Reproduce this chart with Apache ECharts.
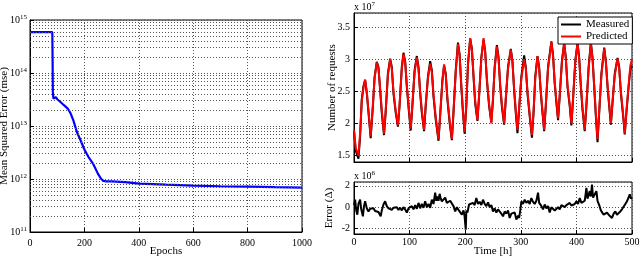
<!DOCTYPE html>
<html><head><meta charset="utf-8">
<script src="https://cdn.jsdelivr.net/npm/echarts@6/dist/echarts.min.js"></script>
<style>html,body{margin:0;padding:0;background:#fff}#c{width:640px;height:257px}</style>
</head><body><div id="c"></div>
<script>
// ---- Left panel: training error (mse) vs epochs ----
const epochs = [0, 82, 83, 84, 86, 90, 95, 98, 100, 110, 120, 130, 140, 150, 160, 172, 185, 200, 215, 233, 250, 262, 270, 280, 300, 350, 400, 450, 500, 600, 700, 800, 900, 1000];
const mse = [5.9e14, 5.9e14, 2e14, 4.5e13, 3.3e13, 3.3e13, 3.5e13, 3.7e13, 3.2e13, 2.9e13, 2.6e13, 2.35e13, 2.1e13, 1.7e13, 1.25e13, 7.8e12, 5.5e12, 3.6e12, 2.6e12, 1.9e12, 1.25e12, 1.0e12, 9.2e11, 9.0e11, 9.0e11, 8.7e11, 8.2e11, 8.0e11, 7.8e11, 7.5e11, 7.3e11, 7.2e11, 7.0e11, 6.9e11];

// ---- Right top: number of requests (x 10^7) ----
const hours = [0,3,8,11,14,17,20,23,26, 30,34,37,41,44,47,50, 54,57,61,65,68,71,75, 79,82,86,89,92,95,99, 102,105,109,113,116,119,122, 126,129,133,137,140,143,147, 152,155,159,162,165,168,172, 176,179,183,187,190,193,196, 199,202,205,209,212,215,218, 222,225,229,233,236,239,243, 247,250,253,257,260,263,266, 270,273,277,282,285,288,291, 294,297,301,306,309,312,316, 320,323,326,330,333,336,339, 342,345,349,355,358,361,364, 367,370,374,378,381,384,388, 391,394,398,402,405,408,411, 415,418,422,426,429,432,435, 438,441,445,450,453,456,459, 462,465,469,474,477,480,484, 487,490,494,497,500];
const predicted = [1.90,1.62,1.50,1.85,2.35,2.55,2.68,2.50,2.20, 1.80,2.30,2.70,2.95,2.85,2.55,2.20, 1.84,2.20,2.75,3.00,2.85,2.50,2.20, 1.97,2.30,2.85,3.08,2.95,2.60,2.20, 1.92,2.30,2.80,3.03,2.85,2.50,2.20, 1.90,2.30,2.70,2.93,2.80,2.45,2.10, 1.75,2.15,2.65,2.92,2.75,2.40,2.05, 1.76,2.20,2.80,3.24,3.05,2.60,2.20, 1.87,2.30,2.90,3.33,3.15,2.75,2.35, 2.05,2.45,3.00,3.33,3.10,2.70,2.30, 2.00,2.40,2.85,3.20,3.00,2.60,2.30, 2.00,2.40,2.85,3.15,2.95,2.55,2.20, 1.90,2.25,2.70,3.00,2.85,2.50,2.15, 1.82,2.20,2.70,3.05,2.85,2.50,2.20, 1.90,2.30,2.85,3.27,3.05,2.65,2.35, 2.08,2.45,2.95,3.26,3.00,2.60,2.30, 2.00,2.40,2.95,3.26,3.00,2.60,2.25, 1.90,2.30,2.85,3.25,3.00,2.60,2.15, 1.76,2.20,2.75,3.17,2.95,2.60,2.30, 2.00,2.35,2.75,3.01,2.85,2.50,2.15, 1.84,2.20,2.60,2.90,3.00];
const measured = [1.88,1.58,1.45,1.80,2.38,2.58,2.68,2.47,2.18, 1.77,2.27,2.72,2.96,2.88,2.52,2.16, 1.82,2.18,2.78,3.01,2.88,2.47,2.17, 1.95,2.28,2.88,3.10,2.97,2.57,2.16, 1.89,2.27,2.83,3.05,2.88,2.47,2.17, 1.88,2.27,2.73,2.97,2.83,2.42,2.06, 1.73,2.12,2.68,2.90,2.78,2.37,2.01, 1.74,2.17,2.83,3.26,3.07,2.57,2.16, 1.84,2.27,2.93,3.32,3.17,2.72,2.31, 2.04,2.42,3.03,3.30,3.12,2.67,2.27, 2.02,2.37,2.88,3.22,3.03,2.57,2.26, 1.98,2.37,2.88,3.16,2.97,2.52,2.16, 1.85,2.22,2.73,3.06,2.88,2.47,2.11, 1.78,2.17,2.73,3.05,2.88,2.47,2.17, 1.88,2.27,2.88,3.28,3.07,2.62,2.32, 2.05,2.42,2.98,3.25,3.03,2.57,2.27, 1.97,2.37,2.98,3.25,3.03,2.57,2.21, 1.88,2.27,2.88,3.26,3.03,2.57,2.11, 1.71,2.16,2.78,3.18,2.97,2.57,2.27, 1.98,2.32,2.78,3.02,2.88,2.47,2.12, 1.83,2.17,2.58,2.84,2.90];

// ---- Right bottom: prediction error (x 10^6) ----
const errHours = [0,2,4,6,8,11,13,16,18,20,23,26,29,32,35,38,41,44,46,48,50,53,56,59,62,65,68,71,74,77,80,83,86,89,92,95,98,101,104,107,110,113,116,119,122,125,128,131,134,137,140,143,146,148,150,152,154,156,158,161,164,167,170,173,176,179,182,185,188,191,194,197,199,201,202,204,207,210,214,217,220,223,226,229,232,235,238,241,244,247,250,253,256,259,262,265,268,271,274,277,280,283,286,289,292,295,297,299,301,304,307,310,313,316,319,322,325,328,331,333,336,340,343,346,349,352,355,358,361,364,367,370,373,376,379,382,385,388,391,394,397,400,403,406,409,412,415,418,420,422,424,426,428,430,432,434,436,438,441,444,446,449,452,455,458,461,464,467,470,473,476,479,482,485,488,491,494,496,498,500];
const errValues = [0.2,0.7,-0.3,-0.7,0.3,0.7,-0.2,-0.85,0.1,0.55,-0.1,-0.4,-0.15,-0.3,-0.1,-0.35,-0.2,-0.45,-0.3,-0.85,-0.3,0.25,0.55,0.1,-0.1,0.0,-0.25,-0.05,-0.2,0.0,-0.25,-0.05,-0.3,0.0,-0.2,-0.5,-0.1,-0.2,0.1,-0.2,0.2,-0.15,0.4,-0.1,0.3,-0.05,0.55,0.0,0.3,-0.05,0.7,0.3,1.35,0.6,1.0,0.6,1.25,0.8,0.55,0.7,0.9,0.4,0.25,0.6,0.35,0.1,-0.4,0.0,-0.25,-0.4,-0.7,-0.3,-0.9,-2.1,-0.3,-0.5,0.25,0.1,0.4,0.2,0.85,0.3,0.5,0.2,0.7,0.3,0.1,0.45,0.0,0.2,-0.4,-0.1,-0.5,-0.2,-0.35,-0.6,-0.85,-0.4,-0.6,-0.3,-1.0,-0.6,-0.75,-0.5,-1.15,-0.8,-1.0,-0.3,0.55,0.3,0.7,0.4,0.6,0.3,0.85,0.5,0.3,0.6,1.35,0.4,0.2,-0.2,0.25,-0.1,0.1,-0.5,0.0,0.1,-0.3,-0.4,0.0,-0.2,0.2,0.25,0.0,0.2,0.1,0.4,0.15,0.25,0.3,0.55,0.3,0.85,0.4,0.4,0.6,1.8,0.8,0.9,1.5,1.0,2.1,0.9,0.8,1.3,1.5,0.6,0.2,-0.3,-0.4,-0.7,-0.85,-0.5,-0.7,-0.6,-1.0,-0.6,-0.4,-0.7,-0.7,-0.4,-0.2,-0.1,0.3,0.55,0.6,1.2,0.8,0.9];

const seriesNames = ['Measured', 'Predicted'];
const decades = [11, 12, 13, 14];

const FONT = 'Liberation Serif';
const DOT = { type: [1, 2], color: '#555', width: 1 };
const gridLine = { show: true, lineStyle: DOT };
const axLine = { show: true, onZero: false, lineStyle: { color: '#000', width: 1 } };
const tick = { show: true, inside: true, length: 4, lineStyle: { color: '#000' } };
const lbl = { color: '#000', fontFamily: FONT, fontSize: 10 };
const plain = v => String(v);
const nameStyle = { color: '#000', fontFamily: FONT, fontSize: 11 };
const supRich = { s: { fontSize: 7, fontFamily: FONT, color: '#000', padding: [0, 0, 6, 0] } };
const gridBase = { show: true, borderColor: '#000', borderWidth: 1, backgroundColor: '#fff', containLabel: false, outerBoundsMode: 'none' };

const minorLog = [];
decades.forEach(e => { for (let k = 2; k <= 9; k++) minorLog.push({ yAxis: k * Math.pow(10, e) }); });

const chart = echarts.init(document.getElementById('c'), null, { renderer: 'canvas' });
chart.setOption({
  animation: false,
  backgroundColor: '#fff',
  textStyle: { fontFamily: FONT },
  grid: [
    Object.assign({ left: 30, right: 338, top: 20, bottom: 25 }, gridBase),
    Object.assign({ left: 354, right: 8, top: 13, bottom: 95 }, gridBase),
    Object.assign({ left: 354, right: 8, top: 182, bottom: 23 }, gridBase)
  ],
  xAxis: [
    { gridIndex: 0, type: 'value', min: 0, max: 1000, interval: 200, axisLine: axLine, axisTick: tick, splitLine: gridLine,
      axisLabel: Object.assign({ margin: 6, formatter: plain }, lbl),
      name: 'Epochs', nameLocation: 'middle', nameGap: 14, nameMoveOverlap: false, nameTextStyle: nameStyle },
    { gridIndex: 1, type: 'value', min: 0, max: 500, interval: 100, axisLine: axLine, axisTick: tick, splitLine: gridLine,
      axisLabel: { show: false } },
    { gridIndex: 2, type: 'value', min: 0, max: 500, interval: 100, axisLine: axLine, axisTick: tick, splitLine: gridLine,
      axisLabel: Object.assign({ margin: 3, formatter: plain }, lbl),
      name: 'Time [h]', nameLocation: 'middle', nameGap: 12, nameMoveOverlap: false, nameTextStyle: nameStyle }
  ],
  yAxis: [
    { gridIndex: 0, type: 'log', logBase: 10, min: 1e11, max: 1e15, axisLine: axLine, axisTick: tick, splitLine: gridLine,
      axisLabel: Object.assign({ margin: 3, formatter: v => '10{s|' + Math.round(Math.log10(v)) + '}', rich: supRich }, lbl),
      name: 'Mean Squared Error (mse)', nameLocation: 'middle', nameGap: 20, nameMoveOverlap: false, nameTextStyle: nameStyle },
    { gridIndex: 1, type: 'value', min: 1.4, max: 3.72, splitNumber: 5, axisLine: axLine, axisTick: tick, splitLine: gridLine,
      axisLabel: Object.assign({ margin: 4, showMinLabel: false, showMaxLabel: false }, lbl),
      name: 'Number of requests', nameLocation: 'middle', nameGap: 16, nameMoveOverlap: false, nameTextStyle: nameStyle },
    { gridIndex: 2, type: 'value', min: -2.5, max: 2.35, splitNumber: 2, axisLine: axLine, axisTick: tick, splitLine: gridLine,
      axisLabel: Object.assign({ margin: 4, showMinLabel: false, showMaxLabel: false }, lbl),
      name: 'Error (Δ)', nameLocation: 'middle', nameGap: 19, nameMoveOverlap: false, nameTextStyle: nameStyle }
  ],
  legend: {
    data: seriesNames, orient: 'vertical', left: 558, top: 17, icon: 'rect', itemWidth: 20, itemHeight: 2, itemGap: 1,
    padding: [2, 3, 2, 3], borderColor: '#000', borderWidth: 1, backgroundColor: '#fff', selectedMode: false,
    textStyle: { color: '#000', fontFamily: FONT, fontSize: 11, padding: [0, 0, 0, 0] }
  },
  graphic: [
    { type: 'text', left: 354, top: 1, style: { text: 'x 10{s|7}', rich: supRich, font: '10px "Liberation Serif"', fill: '#000' } },
    { type: 'text', left: 354, top: 170, style: { text: 'x 10{s|6}', rich: supRich, font: '10px "Liberation Serif"', fill: '#000' } }
  ],
  series: [
    { type: 'line', xAxisIndex: 0, yAxisIndex: 0, showSymbol: false, silent: true,
      data: epochs.map((e, i) => [e, mse[i]]), lineStyle: { color: '#0000ff', width: 2.2 }, itemStyle: { color: '#0000ff' },
      markLine: { silent: true, symbol: ['none', 'none'], label: { show: false }, lineStyle: DOT, data: minorLog } },
    { name: seriesNames[0], type: 'line', xAxisIndex: 1, yAxisIndex: 1, showSymbol: false, silent: true,
      data: hours.map((h, i) => [h, measured[i]]), lineStyle: { color: '#000', width: 2 }, itemStyle: { color: '#000' } },
    { name: seriesNames[1], type: 'line', xAxisIndex: 1, yAxisIndex: 1, showSymbol: false, silent: true,
      data: hours.map((h, i) => [h, predicted[i]]), lineStyle: { color: '#ff0000', width: 2 }, itemStyle: { color: '#ff0000' } },
    { type: 'line', xAxisIndex: 2, yAxisIndex: 2, showSymbol: false, silent: true,
      data: errHours.map((h, i) => [h, errValues[i]]), lineStyle: { color: '#000', width: 2 }, itemStyle: { color: '#000' } }
  ]
});
</script></body></html>
